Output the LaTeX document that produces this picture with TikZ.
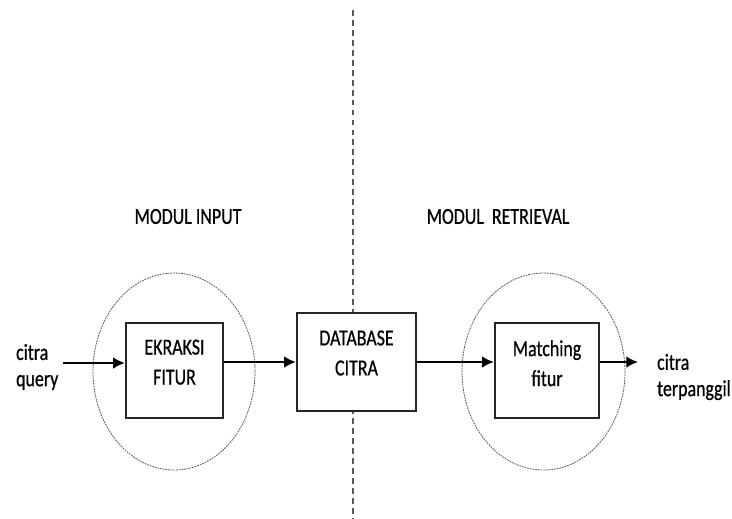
\documentclass[tikz,border=0pt]{standalone}
\usepackage{fontspec}
\newfontfamily\diagfont[FakeStretch=0.78,FakeBold=0.6]{Carlito}
\usetikzlibrary{arrows.meta}

\tikzset{
  modbox/.style={draw=black!85, line width=2pt, fill=white, inner sep=0pt},
  boxtext/.style={font=\diagfont\fontsize{19.6}{25.6}\selectfont, align=center},
  sidetext/.style={font=\diagfont\fontsize{19.6}{22.5}\selectfont, align=left, anchor=west},
  flow/.style={line width=1.6pt, -{Latex[length=10pt,width=10pt]}},
  ring/.style={draw=black!65, line width=0.7pt, dash pattern=on 1.5pt off 0.8pt},
  divider/.style={draw=black!65, line width=1.4pt, dash pattern=on 5pt off 3.5pt}
}

\begin{document}
\begin{tikzpicture}[x=0.03cm, y=-0.03cm]
\useasboundingbox (0,0) rectangle (732,518);

\coordinate (divtop) at (353,10);
\coordinate (divbot) at (353,518);
\coordinate (src) at (63,363);
\coordinate (sink) at (638,362);

% dashed line between input and retrieval
\draw[divider] (divtop) -- (divbot);

\draw[ring] (174,371.5) ellipse (81 and 98.5);
\draw[ring] (543.5,371.5) ellipse (81.5 and 98.5);

\node[boxtext] (inlbl) at (188,216.5) {MODUL INPUT};
\node[boxtext] (retlbl) at (498,216.5) {MODUL\ \ RETRIEVAL};

\node[modbox, minimum width=2.91cm, minimum height=2.85cm,
  label={[boxtext, yshift=0.25cm]center:EKRAKSI\\FITUR}] (ekr) at (174.5,370.5) {};
\node[modbox, minimum width=3.57cm, minimum height=2.94cm,
  label={[boxtext, yshift=0.27cm]center:DATABASE\\CITRA}] (db) at (356.5,362) {};
\node[modbox, minimum width=3.12cm, minimum height=2.85cm,
  label={[boxtext, yshift=0.22cm]center:Matching\\fitur}] (mat) at (547,370.5) {};

\node[sidetext] (qry) at (12,367) {citra\\query};
\node[sidetext] (hasil) at (653,377) {citra\\terpanggil};

\draw[flow] (src) -- (src -| ekr.west);
\draw[flow] (ekr.east |- db.west) -- (db.west);
\draw[flow] (db.east) -- (db.east -| mat.west);
\draw[flow] (mat.east |- db.east) -- (sink);
\end{tikzpicture}
\end{document}
